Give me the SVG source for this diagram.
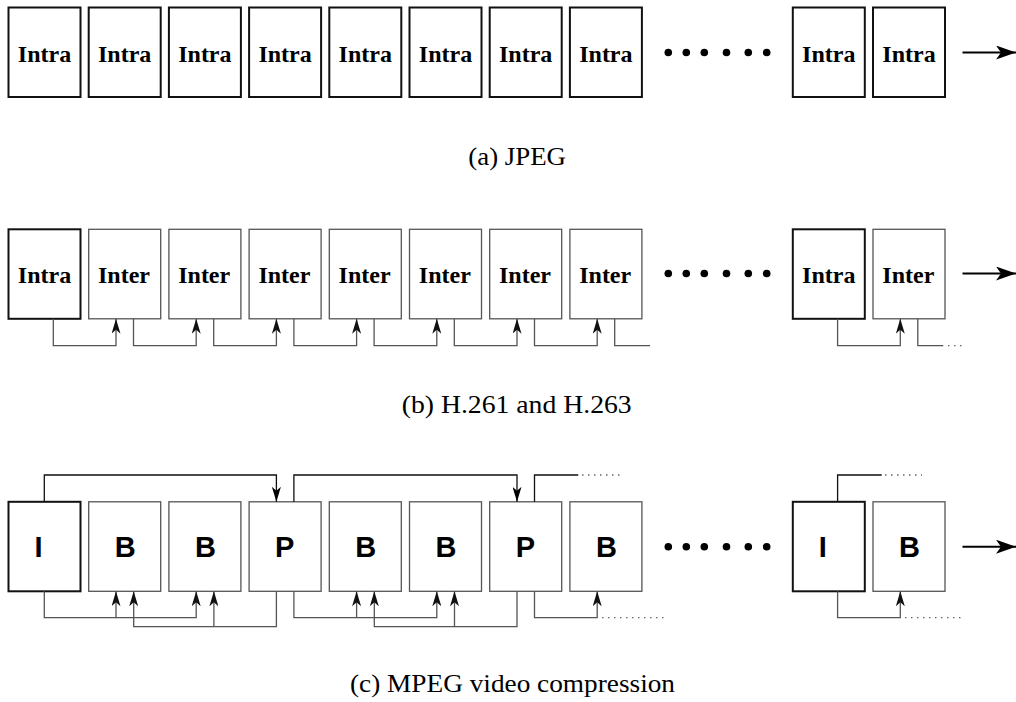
<svg xmlns="http://www.w3.org/2000/svg" width="1016" height="702" viewBox="0 0 1016 702">
  <style>
    .bold { fill: #fff; stroke: #111; stroke-width: 2; }
    .thin { fill: #fff; stroke: #555; stroke-width: 1.3; }
    .serif { font-family: "Liberation Serif", "Tinos", "Times New Roman", "DejaVu Serif", serif; font-weight: 700; font-size: 24px; fill: #000; }
    .sans { font-family: "Liberation Sans", Arial, sans-serif; font-weight: bold; font-size: 29px; fill: #000; }
    .cap { font-family: "Liberation Serif", "Times New Roman", serif; font-size: 26px; fill: #000; }
    .ref { fill: none; stroke: #555; stroke-width: 1.3; }
    .fwd { fill: none; stroke: #111; stroke-width: 1.3; }
    .dot { fill: none; stroke: #666; stroke-width: 1.3; stroke-dasharray: 1.5 4.5; }
    .time { fill: none; stroke: #000; stroke-width: 2; }
    .bullet { fill: #000; }
  </style>
  <defs>
    <marker id="tip-g" markerUnits="userSpaceOnUse" viewBox="0 0 15 9" refX="15" refY="4.5" markerWidth="15" markerHeight="9" orient="auto">
      <path d="M0,0 L15,4.5 L0,9 L4,4.5 z" fill="#111"/>
    </marker>
    <marker id="tip-k" markerUnits="userSpaceOnUse" viewBox="0 0 15 9" refX="15" refY="4.5" markerWidth="15" markerHeight="9" orient="auto">
      <path d="M0,0 L15,4.5 L0,9 L4,4.5 z" fill="#000"/>
    </marker>
    <marker id="tip-big" markerUnits="userSpaceOnUse" viewBox="0 0 20 14" refX="20" refY="7" markerWidth="20" markerHeight="14" orient="auto">
      <path d="M0,0 L20,7 L0,14 L5,7 z" fill="#000"/>
    </marker>
  </defs>

  <!-- (a) JPEG: every frame intra coded -->
  <g id="row-a">
    <g id="a1"><rect class="bold" x="8.5" y="7.5" width="72" height="89.5"/><text class="serif" x="17.8" y="61.7">Intra</text></g>
    <g id="a2"><rect class="bold" x="88.7" y="7.5" width="72" height="89.5"/><text class="serif" x="98" y="61.7">Intra</text></g>
    <g id="a3"><rect class="bold" x="168.9" y="7.5" width="72" height="89.5"/><text class="serif" x="178.2" y="61.7">Intra</text></g>
    <g id="a4"><rect class="bold" x="249.1" y="7.5" width="72" height="89.5"/><text class="serif" x="258.4" y="61.7">Intra</text></g>
    <g id="a5"><rect class="bold" x="329.3" y="7.5" width="72" height="89.5"/><text class="serif" x="338.6" y="61.7">Intra</text></g>
    <g id="a6"><rect class="bold" x="409.5" y="7.5" width="72" height="89.5"/><text class="serif" x="418.8" y="61.7">Intra</text></g>
    <g id="a7"><rect class="bold" x="489.7" y="7.5" width="72" height="89.5"/><text class="serif" x="499" y="61.7">Intra</text></g>
    <g id="a8"><rect class="bold" x="569.9" y="7.5" width="72" height="89.5"/><text class="serif" x="579.2" y="61.7">Intra</text></g>
    <g id="a-dots">
      <circle class="bullet" cx="668.3" cy="52.5" r="3.8"/><circle class="bullet" cx="686.3" cy="52.5" r="3.8"/><circle class="bullet" cx="704.3" cy="52.5" r="3.8"/>
      <circle class="bullet" cx="726.5" cy="52.5" r="3.8"/><circle class="bullet" cx="748.3" cy="52.5" r="3.8"/><circle class="bullet" cx="766.7" cy="52.5" r="3.8"/>
    </g>
    <g id="a9"><rect class="bold" x="792.8" y="7.5" width="72" height="89.5"/><text class="serif" x="802.1" y="61.7">Intra</text></g>
    <g id="a10"><rect class="bold" x="873" y="7.5" width="72" height="89.5"/><text class="serif" x="882.3" y="61.7">Intra</text></g>
    <text id="cap-a" class="cap" x="468.3" y="165" textLength="97.7" lengthAdjust="spacingAndGlyphs">(a) JPEG</text>
  </g>

  <!-- (b) H.261 / H.263: intra frame followed by inter frames -->
  <g id="row-b">
    <g id="b1"><rect class="bold" x="8.5" y="229.3" width="72" height="89.5"/><text class="serif" x="17.8" y="283.3">Intra</text></g>
    <g id="b2"><rect class="thin" x="88.7" y="229.3" width="72" height="89.5"/><text class="serif" x="98" y="283.3">Inter</text></g>
    <g id="b3"><rect class="thin" x="168.9" y="229.3" width="72" height="89.5"/><text class="serif" x="178.2" y="283.3">Inter</text></g>
    <g id="b4"><rect class="thin" x="249.1" y="229.3" width="72" height="89.5"/><text class="serif" x="258.4" y="283.3">Inter</text></g>
    <g id="b5"><rect class="thin" x="329.3" y="229.3" width="72" height="89.5"/><text class="serif" x="338.6" y="283.3">Inter</text></g>
    <g id="b6"><rect class="thin" x="409.5" y="229.3" width="72" height="89.5"/><text class="serif" x="418.8" y="283.3">Inter</text></g>
    <g id="b7"><rect class="thin" x="489.7" y="229.3" width="72" height="89.5"/><text class="serif" x="499" y="283.3">Inter</text></g>
    <g id="b8"><rect class="thin" x="569.9" y="229.3" width="72" height="89.5"/><text class="serif" x="579.2" y="283.3">Inter</text></g>
    <g id="b-dots">
      <circle class="bullet" cx="668.3" cy="273.5" r="3.8"/><circle class="bullet" cx="686.3" cy="273.5" r="3.8"/><circle class="bullet" cx="704.3" cy="273.5" r="3.8"/>
      <circle class="bullet" cx="726.5" cy="273.5" r="3.8"/><circle class="bullet" cx="748.3" cy="273.5" r="3.8"/><circle class="bullet" cx="766.7" cy="273.5" r="3.8"/>
    </g>
    <g id="b9"><rect class="bold" x="792.8" y="229.3" width="72" height="89.5"/><text class="serif" x="802.1" y="283.3">Intra</text></g>
    <g id="b10"><rect class="thin" x="873" y="229.3" width="72" height="89.5"/><text class="serif" x="882.3" y="283.3">Inter</text></g>
    <text id="cap-b" class="cap" x="401.7" y="413.3" textLength="230" lengthAdjust="spacingAndGlyphs">(b) H.261 and H.263</text>
  </g>

  <!-- (c) MPEG: I, P and B frames -->
  <g id="row-c">
    <g id="c1"><rect class="bold" x="8.5" y="501.8" width="72" height="89.5"/><text class="sans" x="34.5" y="556.7">I</text></g>
    <g id="c2"><rect class="thin" x="88.7" y="501.8" width="72" height="89.5"/><text class="sans" x="114.7" y="556.7">B</text></g>
    <g id="c3"><rect class="thin" x="168.9" y="501.8" width="72" height="89.5"/><text class="sans" x="194.9" y="556.7">B</text></g>
    <g id="c4"><rect class="thin" x="249.1" y="501.8" width="72" height="89.5"/><text class="sans" x="275.1" y="556.7">P</text></g>
    <g id="c5"><rect class="thin" x="329.3" y="501.8" width="72" height="89.5"/><text class="sans" x="355.3" y="556.7">B</text></g>
    <g id="c6"><rect class="thin" x="409.5" y="501.8" width="72" height="89.5"/><text class="sans" x="435.5" y="556.7">B</text></g>
    <g id="c7"><rect class="thin" x="489.7" y="501.8" width="72" height="89.5"/><text class="sans" x="515.7" y="556.7">P</text></g>
    <g id="c8"><rect class="thin" x="569.9" y="501.8" width="72" height="89.5"/><text class="sans" x="595.9" y="556.7">B</text></g>
    <g id="c-dots">
      <circle class="bullet" cx="668.3" cy="546.7" r="3.8"/><circle class="bullet" cx="686.3" cy="546.7" r="3.8"/><circle class="bullet" cx="704.3" cy="546.7" r="3.8"/>
      <circle class="bullet" cx="726.5" cy="546.7" r="3.8"/><circle class="bullet" cx="748.3" cy="546.7" r="3.8"/><circle class="bullet" cx="766.7" cy="546.7" r="3.8"/>
    </g>
    <g id="c9"><rect class="bold" x="792.8" y="501.8" width="72" height="89.5"/><text class="sans" x="818.8" y="556.7">I</text></g>
    <g id="c10"><rect class="thin" x="873" y="501.8" width="72" height="89.5"/><text class="sans" x="899" y="556.7">B</text></g>
    <text id="cap-c" class="cap" x="350" y="691.7" textLength="325" lengthAdjust="spacingAndGlyphs">(c) MPEG video compression</text>
  </g>

  <g id="connectors">
    <!-- time axis -->
    <path class="time" d="M962.5,52.5 H1016" marker-end="url(#tip-big)"/>
    <path class="time" d="M962.5,273.5 H1016" marker-end="url(#tip-big)"/>
    <path class="time" d="M962.5,546.7 H1016" marker-end="url(#tip-big)"/>

    <!-- (b) each frame predicts the next -->
    <path class="ref" d="M53.3,318.8 V345.7 H116 V318.8" marker-end="url(#tip-g)"/>
    <path class="ref" d="M133.5,318.8 V345.7 H196.2 V318.8" marker-end="url(#tip-g)"/>
    <path class="ref" d="M213.7,318.8 V345.7 H276.4 V318.8" marker-end="url(#tip-g)"/>
    <path class="ref" d="M293.9,318.8 V345.7 H356.6 V318.8" marker-end="url(#tip-g)"/>
    <path class="ref" d="M374.1,318.8 V345.7 H436.8 V318.8" marker-end="url(#tip-g)"/>
    <path class="ref" d="M454.3,318.8 V345.7 H517 V318.8" marker-end="url(#tip-g)"/>
    <path class="ref" d="M534.5,318.8 V345.7 H597.2 V318.8" marker-end="url(#tip-g)"/>
    <path class="ref" d="M614.7,318.8 V345.7 H650"/>
    <path class="ref" d="M837.6,318.8 V345.7 H900.3 V318.8" marker-end="url(#tip-g)"/>
    <path class="ref" d="M917.8,318.8 V345.7 H943.3"/>
    <path class="dot" d="M948,345.7 H964"/>

    <!-- (c) forward prediction I/P to P -->
    <path class="fwd" d="M44.3,501.8 V475 H276.4 V501.8" marker-end="url(#tip-k)"/>
    <path class="fwd" d="M293.9,501.8 V475 H517 V501.8" marker-end="url(#tip-k)"/>
    <path class="fwd" d="M534.5,501.8 V475 H578.3"/>
    <path class="dot" d="M582,475 H620"/>
    <path class="fwd" d="M837.6,501.8 V475 H881.7"/>
    <path class="dot" d="M885,475 H922"/>

    <!-- (c) bidirectional references into B frames -->
    <path class="ref" d="M44.3,591.3 V617.7 H116 V591.3" marker-end="url(#tip-g)"/>
    <path class="ref" d="M116,617.7 H196.2 V591.3" marker-end="url(#tip-g)"/>
    <path class="ref" d="M276.4,591.3 V626.7 H213.9 V591.3" marker-end="url(#tip-g)"/>
    <path class="ref" d="M213.9,626.7 H133.7 V591.3" marker-end="url(#tip-g)"/>
    <path class="ref" d="M293.9,591.3 V617.7 H356.6 V591.3" marker-end="url(#tip-g)"/>
    <path class="ref" d="M356.6,617.7 H436.8 V591.3" marker-end="url(#tip-g)"/>
    <path class="ref" d="M517,591.3 V626.7 H454.5 V591.3" marker-end="url(#tip-g)"/>
    <path class="ref" d="M454.5,626.7 H374.3 V591.3" marker-end="url(#tip-g)"/>
    <path class="ref" d="M534.5,591.3 V617.7 H597.2 V591.3" marker-end="url(#tip-g)"/>
    <path class="dot" d="M602,617.7 H666"/>
    <path class="ref" d="M837.6,591.3 V617.7 H900.3 V591.3" marker-end="url(#tip-g)"/>
    <path class="dot" d="M905,617.7 H962"/>
  </g>
</svg>
